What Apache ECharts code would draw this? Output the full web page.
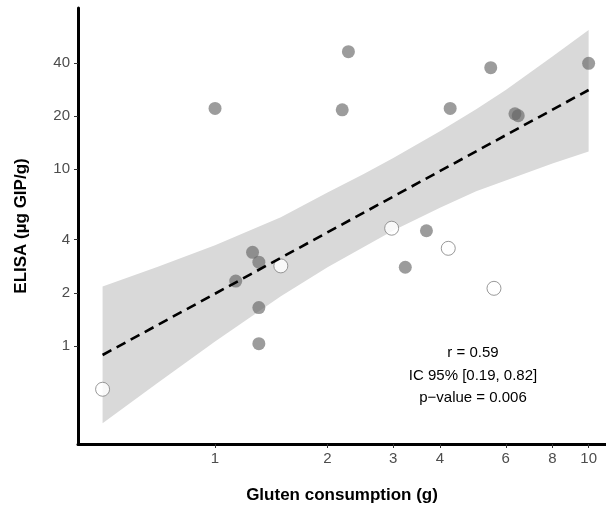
<!DOCTYPE html>
<html>
<head>
<meta charset="utf-8">
<script src="https://cdn.jsdelivr.net/npm/echarts@6/dist/echarts.min.js"></script>
<style>
  html, body { margin: 0; padding: 0; background: #fff; }
  #chart { width: 606px; height: 509px; }
</style>
</head>
<body>
<div id="chart"></div>
<script>
// points: [gluten g, ELISA µg GIP/g]
const filledPoints = [
  [1.0, 22.1], [2.275, 46.3], [2.19, 21.7], [5.47, 37.6], [4.26, 22.1],
  [10.0, 39.8], [6.35, 20.6], [6.48, 20.1], [3.68, 4.49], [3.23, 2.79],
  [1.26, 3.39], [1.31, 2.98], [1.136, 2.33], [1.31, 1.65], [1.31, 1.03]
]
const hollowPoints = [
  [2.97, 4.64], [4.21, 3.57], [5.58, 2.12], [1.5, 2.84], [0.5, 0.569]
]

// fitted line end points and the 95% band edges
const fitLine = [[0.5, 0.889], [10, 28.1]]
const bandX = [0.5, 0.7, 1, 1.5, 2, 2.5, 3, 4, 5, 6, 8, 10]
const bandUpper = [2.17, 2.8, 3.72, 5.35, 7.4, 9.4, 11.6, 16.4, 21.9, 28.1, 43.5, 61.4]
const bandLower = [0.365, 0.615, 1.06, 1.91, 2.79, 3.63, 4.51, 6.05, 7.5, 8.65, 10.8, 12.6]

const xTicks = [1, 2, 3, 4, 6, 8, 10]
const yTicks = [1, 2, 4, 10, 20, 40]

const statLines = ['r = 0.59', 'IC 95% [0.19, 0.82]', 'p\u2212value = 0.006']

const font = '"Liberation Sans", Arial, sans-serif'

const chart = echarts.init(document.getElementById('chart'))

chart.setOption({
  backgroundColor: '#fff',
  animation: false,
  grid: { left: 78, right: 0, top: 8, bottom: 65 },
  xAxis: {
    type: 'log',
    logBase: 10,
    min: 0.4297,
    max: 11.13,
    name: 'Gluten consumption (g)',
    nameLocation: 'middle',
    nameGap: 43,
    nameTextStyle: { fontFamily: font, fontSize: 17, fontWeight: 'bold', color: '#000' },
    axisLine: { onZero: false, lineStyle: { color: '#000', width: 3 } },
    axisTick: { show: true, length: 4, customValues: xTicks, lineStyle: { color: '#333', width: 1 } },
    axisLabel: {
      customValues: xTicks,
      margin: 7,
      fontFamily: font,
      fontSize: 15,
      color: '#4d4d4d',
      formatter: v => String(Math.round(v))
    },
    splitLine: { show: false }
  },
  yAxis: {
    type: 'log',
    logBase: 10,
    min: 0.2788,
    max: 81.8,
    name: 'ELISA (\u00b5g GIP/g)',
    nameLocation: 'middle',
    nameGap: 48,
    nameRotate: 90,
    nameTextStyle: { fontFamily: font, fontSize: 17, fontWeight: 'bold', color: '#000' },
    axisLine: { onZero: false, lineStyle: { color: '#000', width: 3 } },
    axisTick: { show: true, length: 4, customValues: yTicks, lineStyle: { color: '#333', width: 1 } },
    axisLabel: {
      customValues: yTicks,
      margin: 8,
      fontFamily: font,
      fontSize: 15,
      color: '#4d4d4d',
      formatter: v => String(Math.round(v))
    },
    splitLine: { show: false }
  },
  graphic: statLines.map((t, i) => ({
    type: 'text',
    x: 473,
    y: 353 + i * 22.5,
    style: {
      text: t,
      font: '15px ' + font,
      fill: '#000',
      align: 'center',
      verticalAlign: 'middle'
    }
  })),
  series: [
    {
      // confidence band
      type: 'custom',
      silent: true,
      z: 1,
      data: [[1, 1]],
      renderItem: (params, api) => {
        const pts = []
        bandX.forEach((x, i) => pts.push(api.coord([x, bandUpper[i]])))
        for (let i = bandX.length - 1; i >= 0; i--) pts.push(api.coord([bandX[i], bandLower[i]]))
        return {
          type: 'polygon',
          shape: { points: pts },
          style: { fill: '#d9d9d9', stroke: null }
        }
      }
    },
    {
      type: 'scatter',
      z: 2,
      symbol: 'circle',
      symbolSize: 14,
      data: hollowPoints,
      itemStyle: { color: '#fff', borderColor: '#7f7f7f', borderWidth: 1 }
    },
    {
      type: 'scatter',
      z: 3,
      symbol: 'circle',
      symbolSize: 13,
      data: filledPoints,
      itemStyle: { color: 'rgba(100,100,100,0.8)' }
    },
    {
      type: 'line',
      z: 4,
      data: fitLine,
      symbol: 'none',
      lineStyle: { color: '#000', width: 2.6, type: [10, 6] }
    }
  ]
})
</script>
</body>
</html>
